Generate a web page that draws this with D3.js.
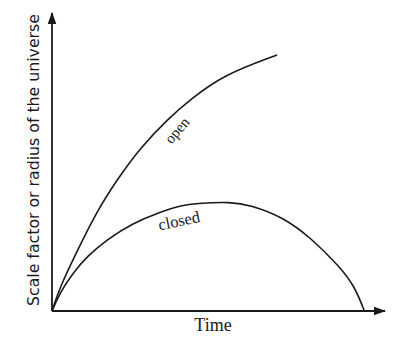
<!DOCTYPE html>
<html>
<head>
<meta charset="utf-8">
<script src="https://cdn.jsdelivr.net/npm/d3@7"></script>
<style>
  body { margin: 0; background: #fff; }
  svg { display: block; }
</style>
</head>
<body>
<svg id="chart" width="408" height="351"></svg>
<script>
// time (arbitrary units) and scale factor for each model
var openTime   = [0, 0.24, 0.75, 1.35, 1.95, 2.64, 3.54, 4.14, 5.14, 6.76];
var openScale  = [0, 0.81, 2.0, 3.35, 4.4, 5.47, 6.51, 7.08, 7.92, 8.59];
var closedTime  = [0, 0.24, 0.63, 1.05, 1.65, 2.43, 3.24, 3.93, 4.44, 5.35, 5.95, 6.94, 7.75, 8.65, 9.1, 9.38];
var closedScale = [0, 0.62, 1.28, 1.83, 2.4, 2.95, 3.32, 3.56, 3.62, 3.66, 3.56, 3.15, 2.48, 1.48, 0.8, 0];
var curveLabels = ["open", "closed"];
var xLabel = "Time";
var yLabel = "Scale factor or radius of the universe";

var svg = d3.select("#chart");
var ink = "#1a1a1a";

var x = d3.scaleLinear().domain([0, 10]).range([52, 385]);
var y = d3.scaleLinear().domain([0, 10]).range([311, 13]);

var defs = svg.append("defs");
defs.append("marker")
  .attr("id", "arrow")
  .attr("viewBox", "0 0 10 10")
  .attr("refX", 9).attr("refY", 5)
  .attr("markerWidth", 7).attr("markerHeight", 7)
  .attr("orient", "auto")
  .append("path")
    .attr("d", "M0,1.5 L10,5 L0,8.5 Z")
    .attr("fill", ink);

// axes
svg.append("line")
  .attr("x1", x(0)).attr("y1", y(0))
  .attr("x2", x(10)).attr("y2", y(0))
  .attr("stroke", ink).attr("stroke-width", 1.8)
  .attr("marker-end", "url(#arrow)");
svg.append("line")
  .attr("x1", x(0)).attr("y1", y(0))
  .attr("x2", x(0)).attr("y2", y(10))
  .attr("stroke", ink).attr("stroke-width", 1.8)
  .attr("marker-end", "url(#arrow)");

var line = d3.line()
  .curve(d3.curveBasis)
  .x(function(d) { return x(d[0]); })
  .y(function(d) { return y(d[1]); });

svg.append("path")
  .datum(d3.zip(openTime, openScale))
  .attr("d", line)
  .attr("fill", "none")
  .attr("stroke", ink).attr("stroke-width", 1.6);

svg.append("path")
  .datum(d3.zip(closedTime, closedScale))
  .attr("d", line)
  .attr("fill", "none")
  .attr("stroke", ink).attr("stroke-width", 1.6);

// curve labels
svg.append("text")
  .attr("transform", "translate(" + x(3.87) + "," + y(5.95) + ") rotate(-50)")
  .attr("text-anchor", "middle")
  .attr("font-family", "Liberation Serif, serif")
  .attr("font-size", 15)
  .attr("fill", ink)
  .text(curveLabels[0]);

svg.append("text")
  .attr("transform", "translate(" + x(3.85) + "," + y(2.85) + ") rotate(-12)")
  .attr("text-anchor", "middle")
  .attr("font-family", "Liberation Serif, serif")
  .attr("font-size", 16.5)
  .attr("fill", ink)
  .text(curveLabels[1]);

// axis titles
svg.append("text")
  .attr("x", 213).attr("y", 331)
  .attr("text-anchor", "middle")
  .attr("font-family", "Liberation Serif, serif")
  .attr("font-size", 18)
  .attr("fill", ink)
  .text(xLabel);

svg.append("text")
  .attr("transform", "translate(39,160) rotate(-90)")
  .attr("text-anchor", "middle")
  .attr("font-family", "DejaVu Sans Condensed, DejaVu Sans, sans-serif")
  .attr("font-size", 15)
  .attr("textLength", 292)
  .attr("lengthAdjust", "spacingAndGlyphs")
  .attr("fill", ink)
  .text(yLabel);
</script>
</body>
</html>
